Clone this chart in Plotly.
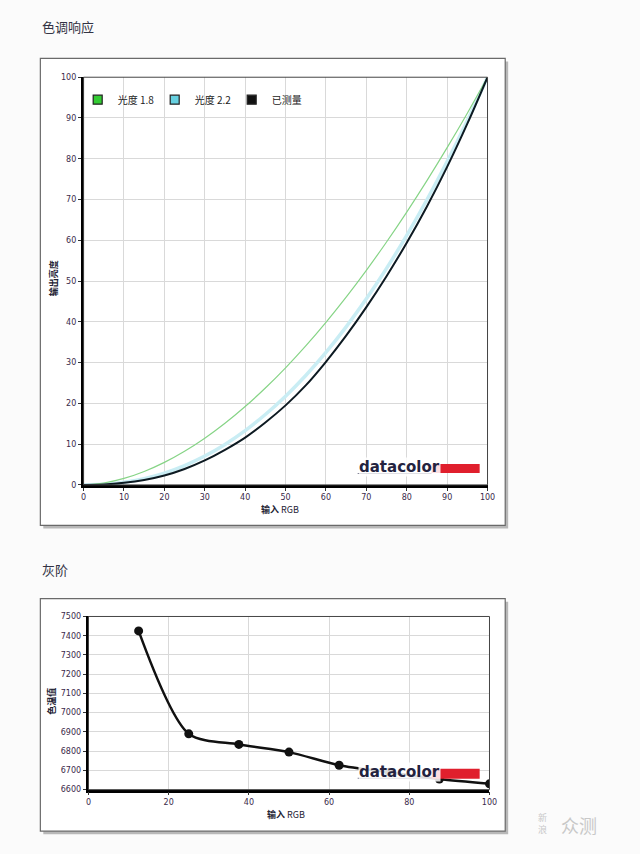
import plotly.graph_objects as go

W, H = 640, 854

# ---------------- data ----------------
rgb_in = [0, 5, 10, 15, 20, 25, 30, 35, 40, 45, 50, 55, 60, 65, 70, 75, 80, 85, 90, 95, 100]
gamma18 = [0, 0.46, 1.58, 3.29, 5.52, 8.25, 11.45, 15.11, 19.22, 23.76, 28.72, 34.09, 39.87,
           46.05, 52.63, 59.58, 66.92, 74.64, 82.72, 91.18, 100]
gamma22 = [0, 0.14, 0.63, 1.54, 2.90, 4.74, 7.07, 9.93, 13.32, 17.26, 21.76, 26.84, 32.50,
           38.76, 45.63, 53.10, 61.21, 69.94, 79.31, 89.33, 100]
measured = [0, 0.1, 0.5, 1.2, 2.3, 3.9, 6.0, 8.6, 11.6, 15.3, 19.5, 24.4, 30.2,
            36.6, 43.6, 51.2, 59.4, 68.3, 78.0, 88.6, 100]

gray_in = [12.5, 25, 37.5, 50, 62.5, 75, 87.5, 100]
gray_cct = [7425, 6890, 6835, 6795, 6727, 6690, 6655, 6630]

top_xticks = list(range(0, 101, 10))
top_yticks = list(range(0, 101, 10))
bot_xticks = list(range(0, 101, 20))
bot_yticks = list(range(6600, 7501, 100))

legend_names = ["光度 1.8", "光度 2.2", "已测量"]
legend_colors = ["#33cc33", "#66d0e0", "#111111"]

# ---------------- helpers ----------------
def px(x):
    return x / W

def py(y):
    return 1 - y / H

CJK = "Noto Sans CJK SC"
TICK_FONT = dict(family="DejaVu Sans", size=8, color="#3a2a4a")

fig = go.Figure()

# top chart lines
fig.add_trace(go.Scatter(x=rgb_in, y=gamma22, mode="lines", line=dict(color="#c9edf4", width=3.5, shape="spline"),
                         showlegend=False, xaxis="x", yaxis="y", hoverinfo="skip"))
fig.add_trace(go.Scatter(x=rgb_in, y=gamma18, mode="lines", line=dict(color="#86d486", width=1.2, shape="spline"),
                         showlegend=False, xaxis="x", yaxis="y"))
fig.add_trace(go.Scatter(x=rgb_in, y=measured, mode="lines", line=dict(color="#0d1a22", width=2, shape="spline"),
                         showlegend=False, xaxis="x", yaxis="y"))

# legend entries
for n, c in zip(legend_names, legend_colors):
    fig.add_trace(go.Scatter(x=[None], y=[None], mode="markers", name=n,
                             marker=dict(symbol="square", size=9, color=c, line=dict(color="#222", width=1.2)),
                             xaxis="x", yaxis="y"))

# bottom chart
fig.add_trace(go.Scatter(x=gray_in, y=gray_cct, mode="lines+markers",
                         line=dict(color="#111111", width=2.5, shape="spline", smoothing=0.8),
                         marker=dict(size=9, color="#111111"),
                         showlegend=False, xaxis="x2", yaxis="y2"))

top_x = [px(82), px(493)]
top_y = [py(486), py(74)]
bot_x = [px(87), px(495)]
bot_y = [py(794), py(619)]

axis_common = dict(showgrid=True, gridcolor="#d9d9d9", gridwidth=1, zeroline=False,
                   showline=True, linecolor="#000000", linewidth=2.5,
                   ticks="outside", ticklen=3, tickcolor="#333", tickfont=TICK_FONT)

fig.update_layout(
    width=W, height=H, margin=dict(l=0, r=0, t=0, b=0),
    paper_bgcolor="#fbfbfb", plot_bgcolor="#ffffff",
    xaxis=dict(domain=top_x, range=[0, 100], tickvals=top_xticks, anchor="y", **axis_common),
    yaxis=dict(domain=top_y, range=[0, 100], tickvals=top_yticks, anchor="x", **axis_common),
    xaxis2=dict(domain=bot_x, range=[0, 100], tickvals=bot_xticks, anchor="y2", **axis_common),
    yaxis2=dict(domain=bot_y, range=[6600, 7500], tickvals=bot_yticks, anchor="x2", **axis_common),
    legend=dict(orientation="h", x=px(76), y=py(82), xanchor="left", yanchor="top",
                bgcolor="rgba(0,0,0,0)", font=dict(family=CJK, size=10, color="#222"),
                entrywidth=32, entrywidthmode="pixels", itemwidth=30, tracegroupgap=0),
    showlegend=True,
)

shapes = []
# frames with shadows
for (x0, y0, x1, y1) in [(38, 55, 511, 527), (38, 601, 511, 836)]:
    shapes.append(dict(type="rect", xref="paper", yref="paper",
                       x0=px(x0 + 3), x1=px(x1 + 3), y0=py(y1 + 3), y1=py(y0 + 3),
                       fillcolor="#b8b8b8", line=dict(width=0), layer="below"))
    shapes.append(dict(type="rect", xref="paper", yref="paper",
                       x0=px(x0), x1=px(x1), y0=py(y1), y1=py(y0),
                       fillcolor="#ffffff", line=dict(color="#6a6a6a", width=1.2), layer="below"))
# plot area borders (thin top/right)
for xr, yr in [("x", "y"), ("x2", "y2")]:
    shapes.append(dict(type="rect", xref=f"{xr} domain", yref=f"{yr} domain", x0=0, x1=1, y0=0, y1=1,
                       line=dict(color="#444444", width=1), layer="above"))

# datacolor logos
annotations = []
for (ty, by0, by1) in [(468, 465, 474), (776, 773, 783)]:
    shapes.append(dict(type="rect", xref="paper", yref="paper",
                       x0=px(436), x1=px(485), y0=py(by1), y1=py(by0),
                       fillcolor="#e01f2d", line=dict(width=0), layer="above"))
    shapes.append(dict(type="rect", xref="paper", yref="paper",
                       x0=px(361), x1=px(436), y0=py(ty + 7), y1=py(ty + 6),
                       fillcolor="#2a2a4a", line=dict(width=0), layer="above"))
    annotations.append(dict(text="<b>datacolor</b>", xref="paper", yref="paper",
                            x=px(361), y=py(ty), xanchor="left", yanchor="middle", showarrow=False,
                            font=dict(family="DejaVu Sans", size=15, color="#23233f"),
                            bgcolor="rgba(255,255,255,0.85)", borderpad=0))

# titles and axis titles
annotations += [
    dict(text="色调响应", x=px(38), y=py(23), xanchor="left", yanchor="middle",
         font=dict(family=CJK, size=13, color="#333344")),
    dict(text="灰阶", x=px(38), y=py(572), xanchor="left", yanchor="middle",
         font=dict(family=CJK, size=13, color="#333344")),
    dict(text="<b>输入</b> RGB", x=px(282), y=py(511), xanchor="center", yanchor="middle",
         font=dict(family=CJK, size=9, color="#222233")),
    dict(text="<b>输入</b> RGB", x=px(288), y=py(819), xanchor="center", yanchor="middle",
         font=dict(family=CJK, size=9, color="#222233")),
    dict(text="<b>输出亮度</b>", x=px(51), y=py(277), xanchor="center", yanchor="middle", textangle=-90,
         font=dict(family=CJK, size=9, color="#222233")),
    dict(text="<b>色温值</b>", x=px(49), y=py(705), xanchor="center", yanchor="middle", textangle=-90,
         font=dict(family=CJK, size=9, color="#222233")),
    dict(text="新<br>浪", x=px(549), y=py(828), xanchor="center", yanchor="middle",
         font=dict(family=CJK, size=9, color="#c8c8c8")),
    dict(text="众测", x=px(566), y=py(830), xanchor="left", yanchor="middle",
         font=dict(family=CJK, size=18, color="#c8c8c8")),
]
for a in annotations:
    a.setdefault("xref", "paper")
    a.setdefault("yref", "paper")
    a.setdefault("showarrow", False)

fig.update_layout(shapes=shapes, annotations=annotations)
fig.write_html("out.html")
